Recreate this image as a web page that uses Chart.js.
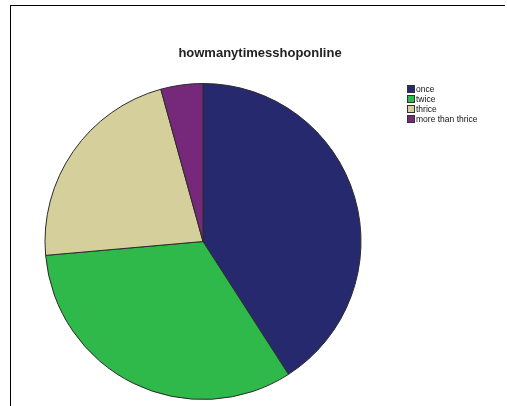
<!DOCTYPE html>
<html>
<head>
<meta charset="utf-8">
<script src="https://cdn.jsdelivr.net/npm/chart.js@4"></script>
<style>
  html, body { margin: 0; padding: 0; background: #fff; }
  #wrap { position: relative; width: 507px; height: 406px; }
  #frame {
    position: absolute; left: 10px; top: 5px; width: 495px; height: 401px;
    border-top: 1px solid #000; border-left: 1px solid #000; box-sizing: border-box;
  }
  canvas { position: absolute; left: 0; top: 0; }
</style>
</head>
<body>
<div id="wrap">
  <div id="frame"></div>
  <canvas id="grafico" width="507" height="406"></canvas>
</div>
<script>
const titulo = 'howmanytimesshoponline';
const categorias = ['once', 'twice', 'thrice', 'more than thrice'];
const percentuais = [40.9, 32.7, 22.1, 4.3];
const cores = ['#27296e', '#2fb94a', '#d5cf9b', '#76297b'];

// titulo e legenda desenhados a mao, no estilo do grafico original
const textosExtras = {
  id: 'textosExtras',
  afterDraw(chart) {
    const c = chart.ctx;
    c.save();
    c.fillStyle = '#222';
    c.font = 'bold 13px "Liberation Sans", Arial, sans-serif';
    c.textAlign = 'center';
    c.textBaseline = 'middle';
    c.fillText(titulo, 260, 53);

    c.font = '8.5px "Liberation Sans", Arial, sans-serif';
    c.textAlign = 'left';
    chart.data.labels.forEach((rotulo, i) => {
      const y = 85 + i * 10;
      c.fillStyle = cores[i];
      c.fillRect(407, y, 8, 8);
      c.strokeStyle = '#333';
      c.lineWidth = 1;
      c.strokeRect(407.5, y + 0.5, 7, 7);
      c.fillStyle = '#111';
      c.fillText(rotulo, 416, y + 4.5);
    });
    c.restore();
  }
};

new Chart(document.getElementById('grafico'), {
  type: 'pie',
  data: {
    labels: categorias,
    datasets: [{
      data: percentuais,
      backgroundColor: cores,
      borderColor: '#2b2b2b',
      borderWidth: 1
    }]
  },
  options: {
    responsive: false,
    animation: false,
    layout: { padding: { left: 44, top: 83, right: 145, bottom: 6 } },
    plugins: {
      legend: { display: false },
      title: { display: false },
      tooltip: { enabled: false }
    }
  },
  plugins: [textosExtras]
});
</script>
</body>
</html>
